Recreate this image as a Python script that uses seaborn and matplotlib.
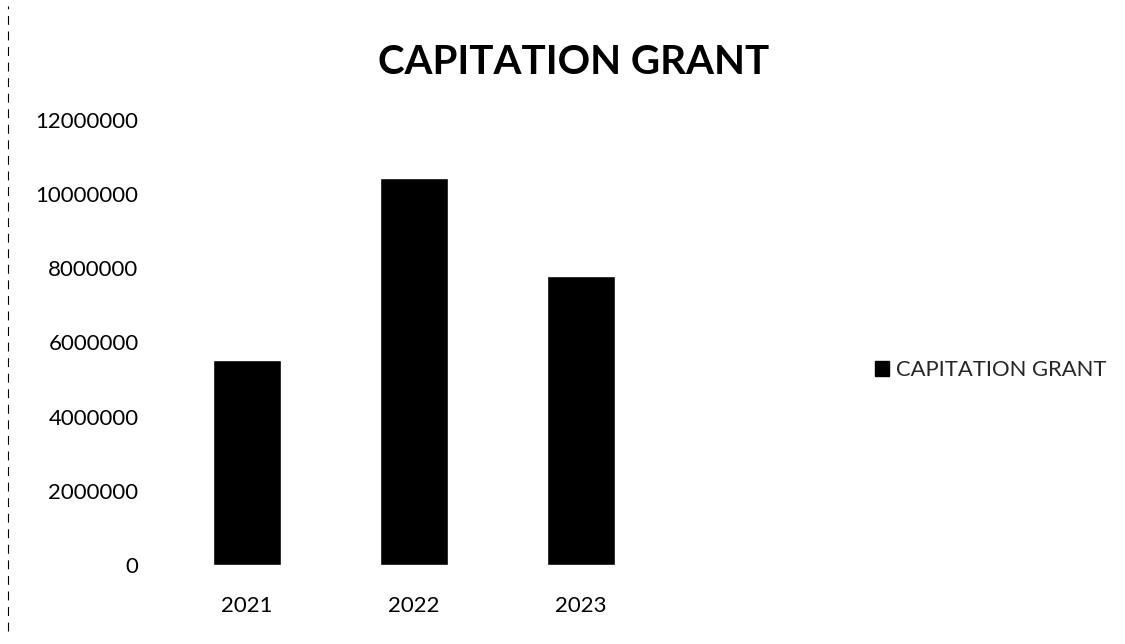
import matplotlib
matplotlib.use("Agg")
import matplotlib.pyplot as plt
import seaborn as sns
import pandas as pd
from matplotlib.patches import Patch
from matplotlib.lines import Line2D

years = ["2021", "2022", "2023"]
grant = [5530000, 10430000, 7790000]
series_name = "CAPITATION GRANT"
yticks = [0, 2000000, 4000000, 6000000, 8000000, 10000000, 12000000]

sns.set_theme(style="white")
plt.rcParams['font.family'] = ['Lato', 'DejaVu Sans']

df = pd.DataFrame({"year": years, "value": grant})

fig = plt.figure(figsize=(11.25, 6.44), dpi=100)
ax = fig.add_axes([163.5/1125, 1 - 565/644, (664.5-163.5)/1125, (565-120)/644])
sns.barplot(data=df, x="year", y="value", color="black", width=0.41, ax=ax, saturation=1)
ax.set_ylim(0, 12000000)
ax.set_xlim(-0.5, 2.5)
ax.set_yticks(yticks)
ax.set_yticklabels([str(v) for v in yticks], fontsize=16, color="black")
ax.tick_params(axis='x', labelsize=16, colors="black", pad=22, length=0)
ax.tick_params(axis='y', pad=18, length=0)
ax.set_xlabel("")
ax.set_ylabel("")
for s in ax.spines.values():
    s.set_visible(False)

fig.text(574/1125, 1 - 62/644, "CAPITATION GRANT", ha="center", va="center",
         fontsize=29, fontweight="bold", color="black")

handles = [Patch(facecolor="black", edgecolor="black", label=series_name)]
fig.legend(handles=handles, loc="center left", bbox_to_anchor=(864/1125, 1 - 370/644),
           frameon=False, fontsize=15.8, handlelength=0.65, handleheight=0.65,
           handletextpad=0.3, borderpad=0)

fig.add_artist(Line2D([8/1125, 8/1125], [0.02, 0.99], transform=fig.transFigure,
                      color="black", lw=0.8, linestyle=(0, (8, 6))))

fig.savefig("out.png", dpi=100)
